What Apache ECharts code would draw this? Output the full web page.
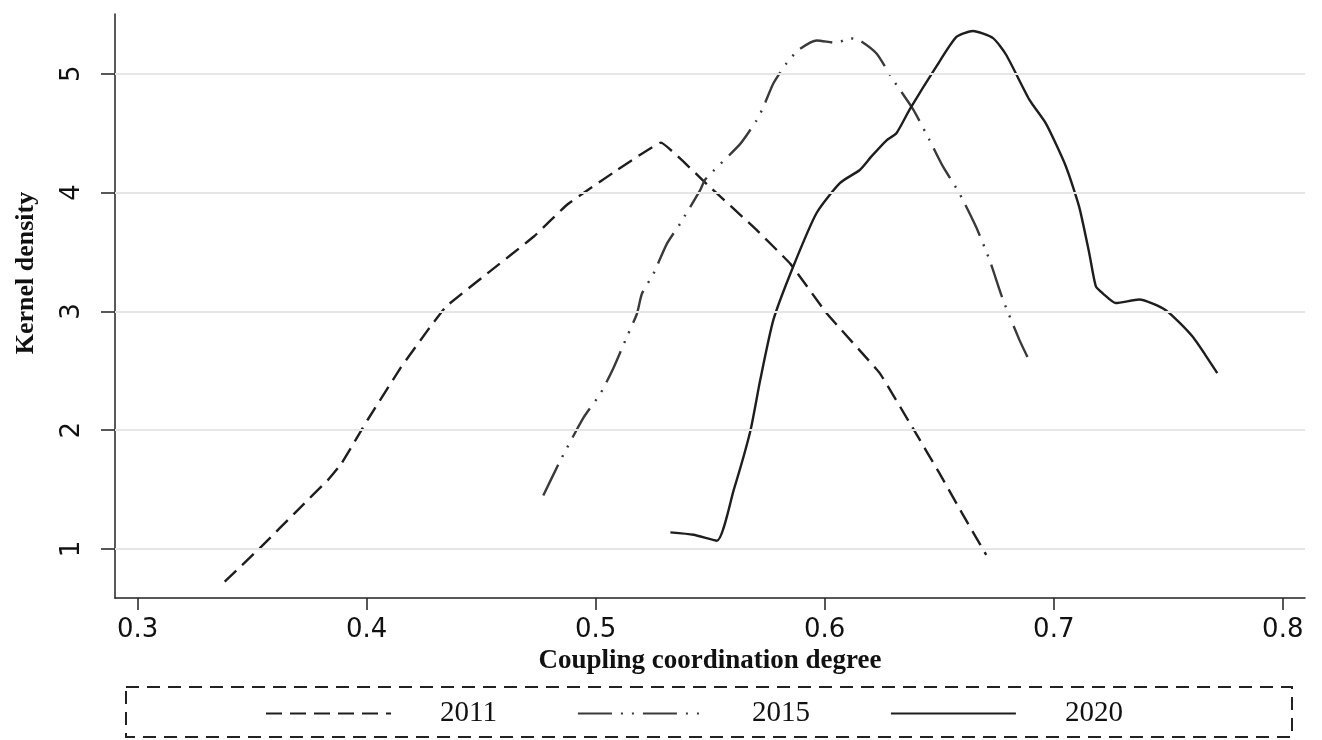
<!DOCTYPE html>
<html>
<head>
<meta charset="utf-8">
<title>Kernel density</title>
<script src="https://cdn.jsdelivr.net/npm/echarts@6/dist/echarts.min.js"></script>
<style>
  html, body { margin: 0; padding: 0; background: #fff; }
  #chart { width: 1322px; height: 740px; }
</style>
</head>
<body>
<div id="chart"></div>
<script>
// values
const years = ['2011', '2015', '2020'];
const xTicks = [0.3, 0.4, 0.5, 0.6, 0.7, 0.8];
const yTicks = [1, 2, 3, 4, 5];

const x2011 = [0.338, 0.354, 0.370, 0.383, 0.389, 0.4005, 0.415, 0.4266, 0.4346, 0.4527, 0.473, 0.4876, 0.5094, 0.5285, 0.548, 0.570, 0.585, 0.601, 0.624, 0.639, 0.650, 0.660, 0.6705];
const y2011 = [0.725, 1.02, 1.33, 1.58, 1.72, 2.09, 2.53, 2.84, 3.04, 3.32, 3.63, 3.90, 4.19, 4.42, 4.08, 3.69, 3.40, 2.98, 2.48, 2.00, 1.64, 1.30, 0.95];

const x2015 = [0.4771, 0.4847, 0.4948, 0.5021, 0.5079, 0.5137, 0.518, 0.5202, 0.5253, 0.5311, 0.5369, 0.5456, 0.5478, 0.5631, 0.5703, 0.5732, 0.5776, 0.5834, 0.5885, 0.5965, 0.6052, 0.611, 0.6153, 0.6226, 0.6298, 0.6386, 0.6458, 0.6516, 0.6589, 0.6661, 0.672, 0.6778, 0.685, 0.6894];
const y2015 = [1.45, 1.75, 2.11, 2.31, 2.53, 2.79, 2.98, 3.15, 3.32, 3.57, 3.74, 4.02, 4.11, 4.41, 4.61, 4.72, 4.92, 5.09, 5.20, 5.28, 5.26, 5.30, 5.28, 5.17, 4.95, 4.70, 4.44, 4.22, 3.99, 3.71, 3.43, 3.10, 2.76, 2.58];

const x2020 = [0.5326, 0.5427, 0.5529, 0.5603, 0.5676, 0.5718, 0.5776, 0.5863, 0.5965, 0.6066, 0.6153, 0.6202, 0.627, 0.6313, 0.6371, 0.6487, 0.6575, 0.6647, 0.6735, 0.6792, 0.6894, 0.6966, 0.7053, 0.7111, 0.7155, 0.7184, 0.7215, 0.7271, 0.7373, 0.7489, 0.7605, 0.7714];
const y2020 = [1.14, 1.12, 1.07, 1.50, 2.00, 2.42, 2.93, 3.38, 3.83, 4.08, 4.19, 4.30, 4.44, 4.50, 4.70, 5.06, 5.31, 5.36, 5.30, 5.16, 4.78, 4.58, 4.22, 3.88, 3.49, 3.21, 3.15, 3.07, 3.10, 3.01, 2.79, 2.48];

function pairs(xs, ys) {
    return xs.map(function (x, i) { return [x, ys[i]]; });
}

const chart = echarts.init(document.getElementById('chart'));

const sansLabel = { fontFamily: 'DejaVu Sans', fontSize: 26, color: '#111' };
const ink = '#1e1e1e';

chart.setOption({
    animation: false,
    backgroundColor: '#fff',
    color: [ink, ink, '#444', ink],
    grid: { left: 115, right: 17, top: 14, bottom: 142 },
    xAxis: {
        type: 'value',
        min: 0.2901,
        max: 0.8097,
        name: 'Coupling coordination degree',
        nameLocation: 'middle',
        nameGap: 43,
        nameTextStyle: { fontFamily: 'Liberation Serif', fontWeight: 'bold', fontSize: 27, color: '#111' },
        axisLine: { onZero: false, lineStyle: { color: '#222', width: 1.5 } },
        axisTick: { customValues: xTicks, length: 12, lineStyle: { color: '#222', width: 1.5 } },
        axisLabel: Object.assign({ customValues: xTicks, margin: 19 }, sansLabel),
        splitLine: { show: false }
    },
    yAxis: {
        type: 'value',
        min: 0.5875,
        max: 5.503,
        name: 'Kernel density',
        nameLocation: 'middle',
        nameGap: 76,
        nameTextStyle: { fontFamily: 'Liberation Serif', fontWeight: 'bold', fontSize: 26, color: '#111', padding: [0, 0, 0, 66] },
        axisLine: { show: true, onZero: false, lineStyle: { color: '#222', width: 1.5 } },
        axisTick: { show: true, customValues: yTicks, length: 14, lineStyle: { color: '#222', width: 1.5 } },
        axisLabel: Object.assign({ customValues: yTicks, rotate: 90, margin: 30 }, sansLabel),
        splitLine: { show: false }
    },
    legend: {
        data: years,
        left: 265,
        top: 699,
        padding: 0,
        itemWidth: 125,
        itemHeight: 14,
        itemGap: 80,
        itemStyle: { opacity: 0 },
        textStyle: { fontFamily: 'Liberation Serif', fontSize: 29, color: '#111', padding: [0, 0, 0, 44] }
    },
    graphic: [{
        type: 'rect',
        silent: true,
        shape: { x: 126, y: 687, width: 1166, height: 50 },
        style: { fill: 'none', stroke: '#222', lineWidth: 2, lineDash: [13, 8] }
    }],
    series: [
        {
            // gridlines at the labelled y values
            type: 'line',
            data: [],
            silent: true,
            markLine: {
                silent: true,
                symbol: 'none',
                label: { show: false },
                lineStyle: { color: '#e6e6e6', width: 2, type: 'solid' },
                data: yTicks.map(function (v) { return { yAxis: v }; })
            }
        },
        {
            name: '2011',
            type: 'line',
            data: pairs(x2011, y2011),
            symbol: 'none',
            smooth: 0.08,
            itemStyle: { color: ink },
            lineStyle: { color: ink, width: 2.4, type: [16, 8] }
        },
        {
            name: '2015',
            type: 'line',
            data: pairs(x2015, y2015),
            symbol: 'none',
            smooth: 0.2,
            itemStyle: { color: '#444' },
            lineStyle: { color: '#3a3a3a', width: 2.4, type: [34, 9, 2, 9, 2, 9] }
        },
        {
            name: '2020',
            type: 'line',
            data: pairs(x2020, y2020),
            symbol: 'none',
            smooth: 0.2,
            itemStyle: { color: ink },
            lineStyle: { color: ink, width: 2.4, type: 'solid' }
        }
    ]
});
</script>
</body>
</html>
